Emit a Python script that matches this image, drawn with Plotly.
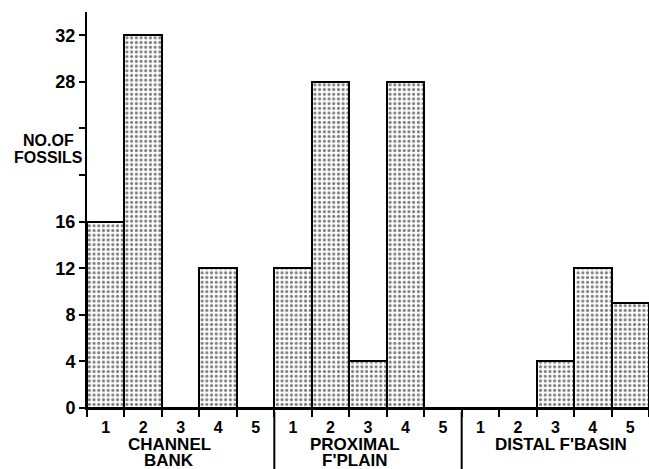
import plotly.graph_objects as go

groups = [["CHANNEL", "BANK"], ["PROXIMAL", "F'PLAIN"], ["DISTAL F'BASIN"]]
sub_labels = ["1", "2", "3", "4", "5"]
channel_bank = [16, 32, 0, 12, 0]
proximal_fplain = [12, 28, 4, 28, 0]
distal_fbasin = [0, 0, 4, 12, 9]
y_ticks = [0, 4, 8, 12, 16, 20, 24, 28, 32]
y_ticktext = ["0", "4", "8", "12", "16", "", "", "28", "32"]
y_title = ["NO.OF", "FOSSILS"]

values = channel_bank + proximal_fplain + distal_fbasin
n = len(values)
centers = [i + 0.5 for i in range(n)]
labels = sub_labels * 3

FONT = "Liberation Sans"

fig = go.Figure()
fig.add_trace(go.Bar(
    x=centers, y=values, width=1.0,
    marker=dict(
        color="white",
        line=dict(color="black", width=2),
        pattern=dict(shape=".", fgcolor="black", bgcolor="white", size=4.7, solidity=0.35),
    ),
    hoverinfo="skip",
))

fig.update_layout(
    width=649, height=469,
    margin=dict(l=87, r=0, t=12, b=61, autoexpand=False),
    paper_bgcolor="white", plot_bgcolor="white",
    showlegend=False,
    bargap=0,
    font=dict(family=FONT, color="black"),
    xaxis=dict(
        range=[0, n], tickvals=centers, ticktext=[f"<b>{t}</b>" for t in labels],
        ticks="", ticklen=0, showgrid=False, zeroline=False, automargin=False,
        showline=True, linecolor="black", linewidth=2,
        tickfont=dict(size=16, family=FONT), ticklabelstandoff=4,
        minor=dict(tickvals=list(range(n + 1)), ticks="outside", ticklen=7,
                   tickwidth=2, tickcolor="black", showgrid=False),
    ),
    yaxis=dict(
        range=[0, 34], tickvals=y_ticks, ticktext=[f"<b>{t}</b>" if t else "" for t in y_ticktext],
        ticks="outside", ticklen=6, tickwidth=2, tickcolor="black",
        showgrid=False, zeroline=False, automargin=False,
        showline=True, linecolor="black", linewidth=2,
        tickfont=dict(size=18, family=FONT),
    ),
)

# group labels, one annotation per line for tight line spacing
group_pos = [2.19, 7.15, 12.64]
for g, xp in zip(groups, group_pos):
    for j, line in enumerate(g):
        fig.add_annotation(x=xp, y=0, xref="x", yref="y", text=f"<b>{line}</b>",
                           showarrow=False, yanchor="middle", yshift=-36 - 16 * j,
                           font=dict(size=17, family=FONT), align="center")

# separators between groups
for b in [5, 10]:
    fig.add_shape(type="line", x0=b, x1=b, xref="x", y0=-0.01, y1=-0.16, yref="paper",
                  line=dict(color="black", width=2))

# y-axis title (two tight lines)
for i, line in enumerate(y_title):
    fig.add_annotation(xref="paper", yref="y", x=-0.069, y=23.0 - 1.5 * i,
                       text=f"<b>{line}</b>", showarrow=False,
                       xanchor="center", yanchor="middle",
                       font=dict(size=16, family=FONT))

fig.write_html("out.html", config={"displayModeBar": False},
               post_script="document.body.style.margin='0';document.body.style.overflow='hidden';")
